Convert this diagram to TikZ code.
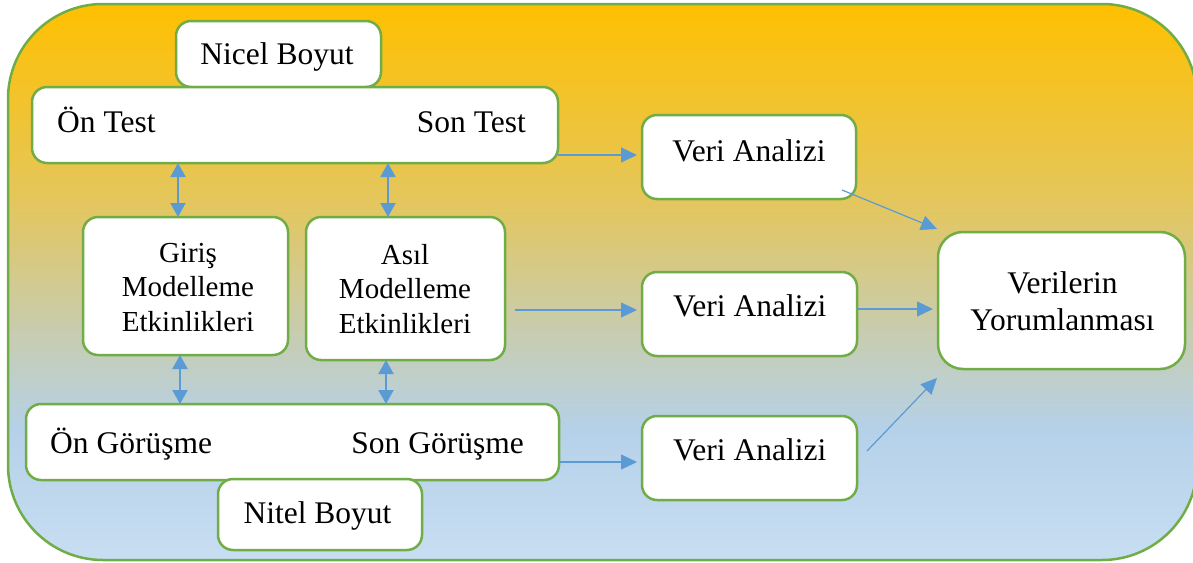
\documentclass[tikz,border=0pt]{standalone}
\usepackage{fontspec}
\setmainfont{Liberation Serif}
\usetikzlibrary{arrows.meta,calc}

\definecolor{boxgreen}{RGB}{112,173,71}
\definecolor{arrowblue}{RGB}{91,155,213}
\definecolor{bgA}{RGB}{255,192,0}
\definecolor{bgB}{RGB}{228,198,92}
\definecolor{bgC}{RGB}{202,204,168}
\definecolor{bgD}{RGB}{181,209,233}
\definecolor{bgE}{RGB}{200,222,242}

% gold at the top fading to light blue at the bottom
\pgfdeclareverticalshading{panelshade}{100bp}{%
  color(0bp)=(bgE); color(25bp)=(bgE); color(36.7bp)=(bgD);
  color(46.6bp)=(bgC); color(57.4bp)=(bgB); color(75bp)=(bgA); color(100bp)=(bgA)}

\tikzset{
  box/.style={draw=boxgreen, line width=2.5pt, fill=white, rounded corners=15pt,
    inner sep=0pt, outer sep=0pt},
  txt/.style={inner sep=0pt, font=\fontsize{31.5}{36}\selectfont},
  smalltxt/.style={inner sep=0pt, align=center, font=\fontsize{29}{34.5}\selectfont},
  arr/.style={draw=arrowblue, line width=1.2pt, -{Triangle[length=16pt,width=15pt]}},
  darr/.style={draw=arrowblue, line width=2pt,
    {Triangle[length=14pt,width=15pt]}-{Triangle[length=14pt,width=15pt]}}
}

\begin{document}
\begin{tikzpicture}[x=1pt, y=-1pt]
\useasboundingbox (0,0) rectangle (1193,562);

% background panel
\path[shade, shading=panelshade, draw=boxgreen, line width=2.5pt, rounded corners=95pt]
  (8,4) rectangle (1197,560);

% boxes
\node[box, minimum width=205pt, minimum height=66pt] (nicel) at (278.5,54) {};
\node[box, minimum width=526pt, minimum height=76pt] (test) at (295,125) {};
\node[box, minimum width=205pt, minimum height=138pt] (giris) at (185.5,286) {};
\node[box, minimum width=199pt, minimum height=143pt] (asil) at (405.5,288.5) {};
\node[box, minimum width=533pt, minimum height=76pt] (gorusme) at (292.5,442) {};
\node[box, minimum width=204pt, minimum height=71pt] (nitel) at (320,514.5) {};
\node[box, minimum width=214pt, minimum height=84pt] (va1) at (749,157) {};
\node[box, minimum width=215pt, minimum height=84pt] (va2) at (749.5,314) {};
\node[box, minimum width=215pt, minimum height=84pt] (va3) at (749.5,458) {};
\node[box, rounded corners=25pt, minimum width=247pt, minimum height=137pt] (yorum) at (1061.5,300.5) {};

% labels (multi-line labels are placed by the baseline of their last line)
\node[txt, anchor=base] (t-nicel) at (277,64.5) {Nicel Boyut};
\node[txt, anchor=base west] (t-ontest) at (57,132) {Ön Test};
\node[txt, anchor=base east] (t-sontest) at (526,132) {Son Test};
\node[smalltxt, anchor=base] (t-giris) at (188,331) {Giriş\\Modelleme\\Etkinlikleri};
\node[smalltxt, anchor=base] (t-asil) at (405,333) {Asıl\\Modelleme\\Etkinlikleri};
\node[txt, anchor=base west] (t-ongor) at (50,453) {Ön Görüşme};
\node[txt, anchor=base east] (t-songor) at (524,453) {Son Görüşme};
\node[txt, anchor=base] (t-nitel) at (317.5,523) {Nitel Boyut};
\node[txt, anchor=base] (t-va1) at (749,161) {Veri Analizi};
\node[txt, anchor=base] (t-va2) at (749.7,316.7) {Veri Analizi};
\node[txt, anchor=base] (t-va3) at (749.7,460) {Veri Analizi};
\node[txt, align=center, anchor=base, font=\fontsize{31.5}{37}\selectfont] (t-yorum)
  at (1062.5,330) {Verilerin\\Yorumlanması};

% two-way links between the activity boxes and the test / interview rows
\coordinate (d1) at ($(giris.north)+(-7.5,0)$);
\coordinate (d2) at ($(asil.north)+(-17.5,0)$);
\coordinate (d3) at ($(giris.south)+(-5.5,0)$);
\coordinate (d4) at ($(asil.south)+(-19.5,0)$);
\draw[darr] (d1 |- test.south) -- (d1);
\draw[darr] (d2 |- test.south) -- (d2);
\draw[darr] (d3) -- (d3 |- gorusme.north);
\draw[darr] (d4) -- (d4 |- gorusme.north);

% flow to the analyses and to the interpretation
\draw[arr, shorten >=5pt] ($(test.east |- va1.west)+(0,-2)$) -- ($(va1.west)+(0,-2)$);
\draw[arr, shorten >=5pt] ($(asil.east |- va2.west)+(10,-4)$) -- ($(va2.west)+(0,-4)$);
\draw[arr, shorten >=5pt] ($(gorusme.east |- va3.west)+(0,4)$) -- ($(va3.west)+(0,4)$);
\draw[arr] ($(va1.south east)+(-14,-9)$) -- ($(yorum.north west)+(-1,-3)$);
\draw[arr] ($(va2.east)+(0,-5)$) -- ($(yorum.west)+(-5,8.5)$);
\draw[arr] ($(va3.east)+(10,-7)$) -- ($(yorum.south west)+(-1,9)$);
\end{tikzpicture}
\end{document}
